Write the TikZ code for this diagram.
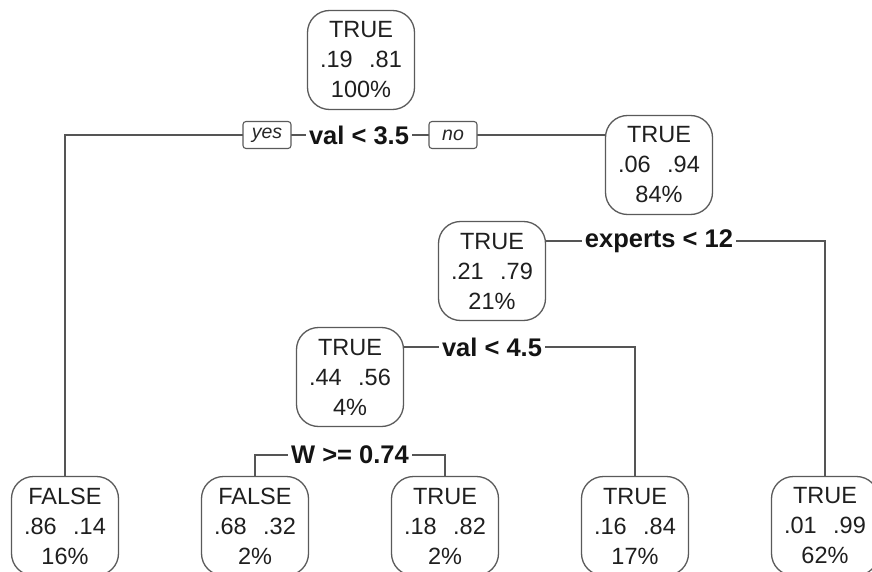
\documentclass[tikz,border=0pt]{standalone}
\usepackage{fontspec}
\setmainfont{Liberation Sans}
\usepackage{tikz}
\usetikzlibrary{positioning,calc,backgrounds}
\definecolor{EdgeGray}{RGB}{85,85,85}
\definecolor{BoxGray}{RGB}{90,90,90}
\newcommand{\pp}[2]{#1\hspace{0.7em}#2}
\tikzset{
  treenode/.style={draw=BoxGray,line width=1.3pt,rounded corners=22pt,fill=white,minimum width=107pt,
    minimum height=99pt,align=center,inner sep=0pt,font=\fontsize{23.5}{30}\selectfont,text=black!88},
  splitlab/.style={fill=white,inner xsep=3pt,inner ysep=1pt,font=\fontsize{25.5}{28}\selectfont\bfseries,text=black!92},
  dirbox/.style={draw=BoxGray,line width=1.1pt,rounded corners=3pt,fill=white,minimum width=48pt,
    minimum height=27pt,inner sep=0pt,font=\fontsize{19.5}{22}\selectfont\itshape,text=black!85},
  branch/.style={draw=EdgeGray,line width=1.4pt}
}

\begin{document}
\begin{tikzpicture}[x=1pt,y=-1pt]
  \useasboundingbox (0,0) rectangle (872,572);
  % inner nodes
  \node[treenode] (nRoot) at (361,60)  {TRUE\\\pp{.19}{.81}\\100\%};
  \node[treenode] (nNo)   at (659,165) {TRUE\\\pp{.06}{.94}\\84\%};
  \node[treenode] (nExp)  at (492,271) {TRUE\\\pp{.21}{.79}\\21\%};
  \node[treenode] (nVal)  at (350,377) {TRUE\\\pp{.44}{.56}\\4\%};
  % leaves
  \node[treenode] (lfA) at (65,526)  {FALSE\\\pp{.86}{.14}\\16\%};
  \node[treenode] (lfB) at (255,526) {FALSE\\\pp{.68}{.32}\\2\%};
  \node[treenode] (lfC) at (445,526) {TRUE\\\pp{.18}{.82}\\2\%};
  \node[treenode] (lfD) at (635,526) {TRUE\\\pp{.16}{.84}\\17\%};
  \node[treenode] (lfE) at (825,526) {TRUE\\\pp{.01}{.99}\\62\%};
  % split labels
  \node[splitlab] (sRoot) at (359,135) {val < 3.5};
  \node[dirbox]   (yes)   at (267,135) {yes};
  \node[dirbox]   (no)    at (453,135) {no};
  \node[splitlab] (sExp)  at (659,241) {experts < 12};
  \node[splitlab] (sVal)  at (492,347) {val < 4.5};
  \node[splitlab] (sW)    at (350,455) {W >= 0.74};
  \begin{scope}[on background layer]
    \draw[branch] (lfA.north) |- (sRoot.center) -- (sRoot -| nNo.west);
    \draw[branch] (nExp.east |- sExp) -- (sExp -| lfE) -- (lfE.north);
    \draw[branch] (nVal.east |- sVal) -- (sVal -| lfD) -- (lfD.north);
    \draw[branch] (lfB.north) |- (sW.center) -| (lfC.north);
  \end{scope}
\end{tikzpicture}
\end{document}
